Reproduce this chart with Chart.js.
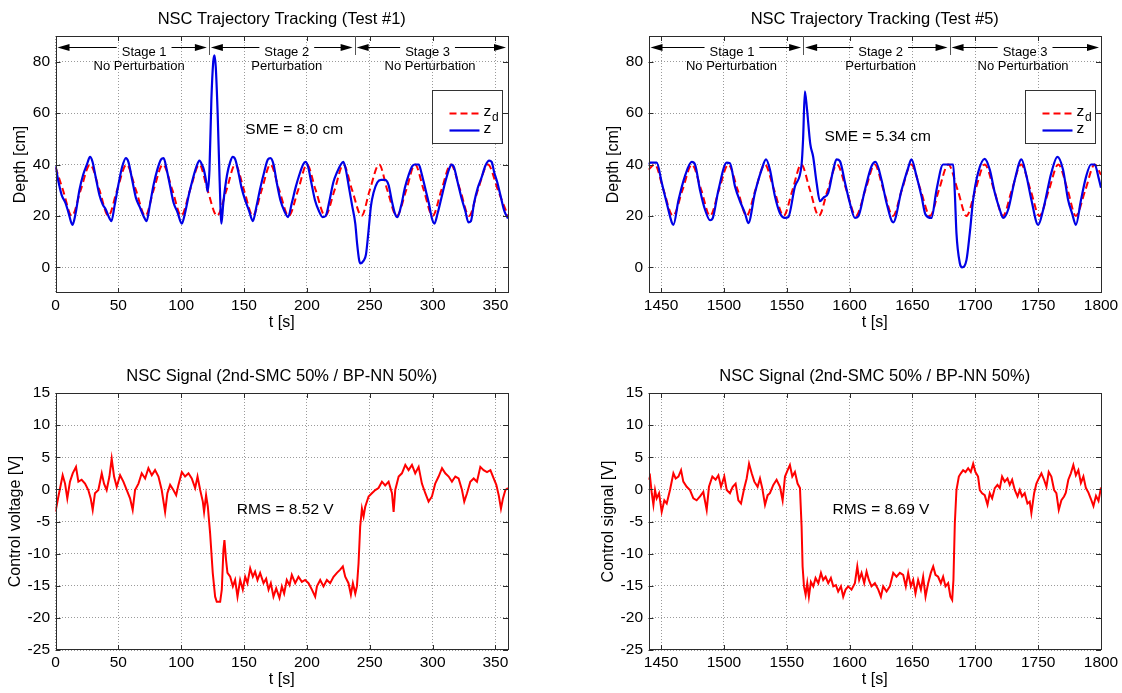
<!DOCTYPE html>
<html>
<head>
<meta charset="utf-8">
<script src="https://cdn.jsdelivr.net/npm/chart.js@4.4.1/dist/chart.umd.min.js"></script>
<style>
  html, body { margin: 0; padding: 0; background: #fff; overflow: hidden; }
  .panel { position: absolute; width: 529px; height: 336px; }
</style>
</head>
<body>
<div class="panel" style="left:0;top:0"><canvas id="depth1" width="529" height="336"></canvas></div>
<div class="panel" style="left:593px;top:0"><canvas id="depth5" width="529" height="336"></canvas></div>
<div class="panel" style="left:0;top:357px"><canvas id="ctrl1" width="529" height="336"></canvas></div>
<div class="panel" style="left:593px;top:357px"><canvas id="ctrl5" width="529" height="336"></canvas></div>
<script>
// ---- tick labels ----
const depthTicks = [0, 20, 40, 60, 80];
const ctrlTicks = [-25, -20, -15, -10, -5, 0, 5, 10, 15];
const test1TimeTicks = [0, 50, 100, 150, 200, 250, 300, 350];
const test5TimeTicks = [1450, 1500, 1550, 1600, 1650, 1700, 1750, 1800];

// ---- Test #1: desired depth z_d ----
const test1DesiredT = [0, 6, 13, 20, 27.5, 35, 42, 49, 56.5, 64, 71.5, 78, 85.5, 93, 100, 107, 114.5, 121, 128.5, 136,
  143, 150, 157, 164, 171, 178, 185.5, 193, 200, 207, 214.5, 222, 229, 236, 243.5, 250, 257.5, 264, 271.5, 279,
  286, 293, 300, 307, 314.5, 322, 329, 336, 344, 352, 360];
const test1DesiredZ = [39, 30, 20, 30, 40, 30, 20, 30, 40, 30, 20, 30, 40, 30, 20, 30, 40, 30, 20, 30,
  40, 30, 20, 30, 40, 30, 20, 30, 40, 30, 20, 30, 40, 30, 20, 30, 40, 30, 20, 30,
  40, 30, 20, 30, 40, 30, 20, 30, 40, 30, 20];

// ---- Test #1: measured depth z ----
const test1DepthT = [0, 2.5, 5, 8, 10.5, 13.5, 16, 19, 22, 25,
  27.5, 29.5, 32, 35, 37.5, 40, 43, 44.5, 47, 50,
  53, 56, 58, 61, 64, 67, 70, 72.5, 75, 78,
  81, 84, 86, 88.5, 91, 94, 97, 100.5, 103, 106,
  109, 112, 114.5, 116.5, 118, 120, 121, 122.5, 124, 125.5,
  126.5, 127.5, 129, 130.5, 132, 133.5, 136.5, 139, 141, 143,
  145.5, 148, 151, 154, 157, 160, 163, 166, 169, 171,
  173.5, 176, 179, 182, 185, 188, 191, 194, 197, 199,
  201, 203.5, 206.5, 209.5, 212.5, 215, 218, 221, 224, 227,
  229, 231, 233.5, 236, 238.5, 240, 241.5, 242.5, 245, 247,
  249, 251, 253, 256, 259, 262, 265, 267.5, 270, 272,
  275, 278, 281, 284, 286, 289, 291, 294, 297, 299.5,
  301.5, 304, 307, 310, 313, 315, 317, 320, 323, 326,
  328.5, 330.5, 333, 336, 339, 342, 345, 347, 349, 351.5,
  354, 357, 360];
const test1DepthZ = [39.5, 33, 28, 25, 21, 16.5, 21, 30, 36, 40,
  43, 41, 35, 28, 24.5, 22.5, 19, 18, 24, 32,
  39, 42.5, 41, 34, 27, 23.5, 20, 18, 24, 32,
  38, 42, 42.5, 38, 32, 25, 21.5, 17, 21, 28,
  34, 39, 41.5, 40, 38, 33, 29.5, 38, 65, 80,
  82.5, 78, 60, 35, 17, 25, 36, 41, 43, 42,
  37, 31, 26, 22, 18, 24, 31, 37, 42, 42.5,
  40, 33, 26, 22, 19.5, 25, 31, 36, 40, 41,
  39, 33, 26, 22, 19.5, 20, 26, 33, 37, 40,
  41, 38, 31, 24, 17, 9, 3, 1.5, 2.5, 5,
  14, 24, 29, 33, 34, 34, 32, 26, 21, 19.5,
  24, 31, 36, 39.5, 40, 40, 37, 31, 25, 19,
  17, 21, 27, 33, 38, 40, 39, 33, 27, 22,
  17.5, 18, 25, 31, 35, 39.5, 41.5, 41, 37, 33,
  28, 22, 19];

// ---- Test #5: desired depth z_d ----
const test5DesiredT = [1440, 1445, 1452, 1459.5, 1467, 1474.5, 1482, 1489, 1496, 1503.5,
  1511, 1518, 1525, 1532.5, 1540, 1547.5, 1554.5, 1561.5, 1568.5, 1575.5,
  1582.5, 1590, 1597.5, 1605, 1612.5, 1620, 1627, 1634.5, 1641.5, 1649,
  1656.5, 1664, 1671, 1678.5, 1686, 1693, 1700, 1707.5, 1715, 1722,
  1729, 1736.5, 1744, 1751, 1758.5, 1766, 1773.5, 1780, 1787.5, 1795, 1800];
const test5DesiredZ = [38, 40, 30, 20, 30, 40, 30, 20, 30, 40,
  30, 20, 30, 40, 30, 20, 30, 40, 30, 20,
  30, 40, 30, 20, 30, 40, 30, 20, 30, 40,
  30, 20, 30, 40, 30, 20, 30, 40, 30, 20,
  30, 40, 30, 20, 30, 40, 30, 20, 30, 40, 36];

// ---- Test #5: measured depth z ----
const test5DepthT = [1440, 1441.2, 1446.5, 1450.5, 1454.5, 1458.5, 1459.8, 1463.8, 1469, 1474.4,
  1477, 1481, 1485, 1489, 1491, 1495.6, 1502.2, 1504.8, 1508.8, 1512.8,
  1516.8, 1519.4, 1524.7, 1530, 1533.5, 1536.6, 1540.6, 1544.6, 1548.6, 1551.2,
  1556.5, 1561.8, 1563, 1564.4, 1566, 1568.7, 1571, 1573.7, 1576.4, 1579,
  1583, 1587, 1589.6, 1592.3, 1596.3, 1600.2, 1604.2, 1606.9, 1612.1, 1617.5,
  1620.6, 1625.4, 1629.4, 1634.7, 1641.3, 1646.6, 1649.2, 1653.2, 1657.2, 1660.4,
  1665.1, 1669.1, 1674.4, 1678.4, 1682.4, 1683.7, 1685, 1687.7, 1689.5, 1693,
  1695.6, 1698.3, 1702.2, 1707.5, 1711.5, 1715.5, 1719.5, 1722.1, 1726.1, 1731.4,
  1736.7, 1740.7, 1744.6, 1750, 1754, 1760.5, 1765.3, 1769.8, 1773.8, 1777,
  1780, 1784, 1788, 1792, 1795, 1798, 1800];
const test5DepthZ = [40, 40.7, 40.7, 33, 25, 17.5, 16.5, 26, 35.5, 41,
  40, 30, 22.4, 18.3, 19, 30, 40.7, 40.5, 31.5, 25.7,
  21, 17.2, 29, 38, 42, 38, 27.6, 21, 19.2, 19.5,
  31.5, 40, 50, 68.5, 62, 48, 43, 33, 25.7, 27,
  29, 38, 42, 41.3, 33, 25, 19.2, 19.8, 30, 39.4,
  41, 34, 25, 17.5, 30, 38.7, 42, 35.5, 27.6, 20.5,
  19.2, 30, 40, 40, 40, 29, 13.3, 1.6, 0, 2.9,
  13.3, 26.3, 36.8, 42.2, 38, 29, 22.4, 19.2, 22.4, 34,
  42, 35.5, 26.3, 16.5, 22.4, 36.8, 43, 38, 26.3, 21,
  16.5, 26, 35, 40, 40, 35, 31];

// ---- Test #1: control voltage ----
const test1CtrlT = [0, 2.3, 5.7, 7.6, 9.4, 11.5, 13.7, 16.3, 18.2, 20.8,
  23.5, 26.1, 28, 29.6, 31.4, 34.1, 36.8, 38.6, 40.7, 42.9,
  44.7, 46.6, 48.7, 51.4, 54, 56.7, 59.3, 61.4, 63.3, 66,
  68.6, 71.3, 73.9, 76.6, 79.2, 81.9, 84.5, 87.2, 89, 91.2,
  93.8, 96, 97.8, 100.5, 103.1, 105.8, 108.4, 111.1, 113, 115.1,
  117.2, 118.2, 119.8, 121.2, 123, 125.1, 127, 128.3, 131, 132.3,
  133.6, 134.4, 135.7, 136.8, 139, 141.1, 142.9, 144.8, 146.9, 149,
  150.9, 152.7, 154.9, 157, 158.8, 160.7, 162.8, 165.5, 167.6, 169.5,
  171.3, 173.4, 175.6, 178.2, 180.1, 181.9, 184, 186.2, 188, 190.7,
  193.3, 196, 198.6, 201.3, 204, 206.6, 208, 210.6, 213.2, 215.9,
  218.5, 221.2, 223.9, 226.5, 228.6, 230.5, 233.1, 235, 236.6, 238.5,
  239.8, 241.1, 242.4, 243.8, 245.1, 246.4, 249.1, 251.7, 254.4, 257,
  259.7, 262.3, 265, 267.7, 269, 270.3, 273, 275.6, 278.3, 280.9,
  283.6, 286.2, 288.9, 291.5, 294.2, 296.8, 299.5, 302.1, 304.8, 307.5,
  310.1, 312.8, 315.4, 318.1, 320.7, 323.4, 325.2, 327.4, 330, 332.7,
  335.3, 338, 340.6, 343.3, 346, 348.6, 350.7, 352.6, 354.4, 356,
  357.9, 360];
const test1CtrlU = [-3.5, -1.1, 2.2, 0.9, -1.4, 1.2, 2.5, 3.5, 1.2, 1.5,
  0.9, -0.1, -1.4, -3.2, -0.6, -0.1, 2.5, 0.9, -0.1, 2,
  4.8, 2, 0.4, 2.2, 1.2, -0.1, -1.4, -3.2, -0.1, 0.9,
  2.5, 1.7, 3.3, 2.2, 3, 2, -0.1, -3.5, -0.6, 0.7,
  -0.1, -0.9, 0.7, 2.7, 2, 2.5, 1.7, 0.2, 2, -0.1,
  -1.9, -3.5, -0.9, -2.7, -6.8, -13, -16.7, -17.5, -17.5, -15.6,
  -9.4, -7.9, -11, -13, -13.6, -15.1, -14.1, -16.7, -14.1, -15.6,
  -13.6, -14.6, -12.3, -13.6, -12.8, -14.1, -13, -14.6, -13.9, -15.6,
  -14.6, -16.7, -15.4, -16.9, -15.1, -16.2, -14.1, -14.9, -13.3, -14.6,
  -13.6, -14.4, -14.1, -14.6, -15.6, -16.7, -15.1, -14.1, -15.1, -14.1,
  -14.6, -13.6, -13, -12.5, -12, -13.6, -14.6, -16.4, -14.6, -16.2,
  -15.1, -11.5, -5.8, -3, -4.2, -2.7, -1.1, -0.6, -0.1, 0.2,
  1.2, 0.6, 1.2, -0.6, -3.5, -0.1, 2, 2.5, 3.8, 3,
  3.8, 2.5, 3.5, 0.9, -0.6, -1.9, -1.1, 0.9, 2, 3.3,
  2.5, 2, 1.2, 2, 1.7, -0.1, -1.9, -0.6, 1.2, 1.7,
  1.2, 3.5, 3, 2.7, 3, 1.7, 0.7, -0.9, -3, -1.4,
  -0.1, 0.2];

// ---- Test #5: control signal ----
const test5CtrlT = [1440, 1441.2, 1442.6, 1443.9, 1445.2, 1446.5, 1448.4, 1450.5, 1452.6, 1454.5,
  1457.1, 1459.8, 1461.6, 1463.8, 1465.9, 1467.7, 1470.4, 1473, 1475.7, 1478.3,
  1481, 1483.6, 1486.3, 1488.1, 1490.8, 1493.4, 1495.6, 1497.7, 1500.3, 1502.2,
  1504.8, 1507, 1509.3, 1511.5, 1513.6, 1516.2, 1518.1, 1520, 1522.1, 1524.2,
  1526.8, 1528.7, 1530.5, 1532.7, 1534.8, 1536.6, 1539.3, 1541.9, 1544.6, 1546.7,
  1548.6, 1550.7, 1552.5, 1554.4, 1556.5, 1558.6, 1560.5, 1561.8, 1562.6, 1563.7,
  1565, 1566.3, 1567.6, 1569.2, 1571.1, 1572.9, 1575.1, 1577.2, 1579, 1580.9,
  1583, 1585.1, 1587, 1589.1, 1590.9, 1593.1, 1594.9, 1596.8, 1598.9, 1601.5,
  1604.2, 1606.1, 1607.6, 1609.5, 1611.6, 1613.5, 1615.3, 1617.4, 1620.1, 1622.8,
  1624.9, 1626.7, 1629.4, 1632, 1634.7, 1637.3, 1640, 1642.6, 1644.7, 1646.6,
  1648.7, 1650.6, 1652.4, 1654.5, 1656.7, 1658.5, 1660.4, 1662.5, 1664.6, 1666.5,
  1668.3, 1670.4, 1672.6, 1674.4, 1676.3, 1678.4, 1680.2, 1681.6, 1682.6, 1683.7,
  1685, 1686.9, 1688.5, 1690.3, 1692.2, 1694.3, 1696.4, 1698.3, 1700.1, 1702.2,
  1703.6, 1705.4, 1707.5, 1709.7, 1711.5, 1713.4, 1715.5, 1717.6, 1719.5, 1721.3,
  1723.4, 1725.6, 1727.4, 1729.3, 1731.4, 1733.6, 1735.4, 1737.2, 1739.3, 1741.5,
  1743.3, 1744.6, 1746.8, 1748.6, 1750.5, 1752.6, 1754.7, 1756.6, 1758.4, 1760.5,
  1762.7, 1764.5, 1766.4, 1768.5, 1770.6, 1772, 1774, 1776, 1778, 1780,
  1782, 1784, 1786, 1788, 1790, 1792, 1794, 1796, 1798, 1800];
const test5CtrlU = [1.5, 2, -0.6, -2.4, -0.1, -1.4, -0.6, -3.5, -1.7, -2.2,
  -0.1, 2.5, 1.7, 2, 3, 1.2, 0.4, -0.1, -1.4, -1.7,
  -1.1, -0.4, -3.2, 0.4, 2, 1.5, 2.2, 0.4, 2, -0.1,
  -0.6, 0.4, 0.9, -1.7, -2.2, 0.2, 1.7, 4, 2.5, 1.2,
  0.4, 1.7, 0.2, -2.4, -0.9, -0.6, 0.7, 1.5, 0.4, -1.7,
  2, 3, 3.8, 2, 2.7, 0.9, 0.2, -5.8, -12, -15.1,
  -16.4, -14.6, -16.7, -14.4, -15.1, -13.8, -14.6, -13, -14.1, -13.6,
  -14.6, -13.8, -15.1, -14.9, -15.9, -15.1, -16.7, -15.6, -15.1, -15.6,
  -14.6, -12, -14.1, -13, -14.6, -12.8, -14.1, -15.1, -14.6, -15.6,
  -16.7, -15.1, -15.9, -15.1, -13, -13.6, -13, -13.3, -15.1, -13,
  -15.1, -14.1, -16.2, -14.1, -15.6, -13.6, -16.7, -14.6, -13, -12,
  -13.3, -13.6, -14.6, -13.6, -15.1, -14.6, -16.7, -17.2, -14.1, -5.3,
  -0.1, 2, 2.5, 3, 2.7, 3.3, 2.7, 4, 2.7, 2,
  -0.1, -0.6, -0.9, -2.4, -0.6, -1.4, 0.2, 0.7, 0.2, 2,
  1.2, 1.7, 0.7, 1.5, -0.1, -1.1, -0.1, -1.1, -0.6, -2.2,
  -1.9, -3.7, -0.6, 0.9, 1.7, 2.5, 1.5, 0.4, 2.7, 2,
  -0.1, -0.6, -3.2, -1.7, -1.1, -0.5, 1.5, 2.5, 3.8, 2.2,
  3, 1, 2, 0.2, -0.5, -1.5, -2.6, -1, -1.8, 0.3];

const FONT = "'Liberation Sans', Arial, sans-serif";
const RED = '#ff0000';
const BLUE = '#0000e6';

function pairs(ts, vs) {
  return ts.map((t, i) => ({ x: t, y: vs[i] }));
}

// title, box, inward ticks, stage arrows, text notes and the legend
const overlay = {
  id: 'overlay',
  afterDatasetsDraw(chart, args, o) {
    const { ctx, chartArea: a } = chart;
    const xs = chart.scales.x, ys = chart.scales.y;
    ctx.save();

    // title centred over the plot box
    ctx.fillStyle = '#000';
    ctx.font = '16.5px ' + FONT;
    ctx.textAlign = 'center';
    ctx.textBaseline = 'middle';
    ctx.fillText(o.title, (a.left + a.right) / 2, 19);

    ctx.strokeStyle = '#2b2b2b';
    ctx.lineWidth = 1;
    ctx.strokeRect(Math.round(a.left) + 0.5, Math.round(a.top) + 0.5,
      Math.round(a.right - a.left) - 1, Math.round(a.bottom - a.top) - 1);
    ctx.beginPath();
    xs.ticks.forEach(t => {
      const px = Math.round(xs.getPixelForValue(t.value)) + 0.5;
      ctx.moveTo(px, a.bottom); ctx.lineTo(px, a.bottom - 5);
      ctx.moveTo(px, a.top); ctx.lineTo(px, a.top + 5);
    });
    ys.ticks.forEach(t => {
      const py = Math.round(ys.getPixelForValue(t.value)) + 0.5;
      ctx.moveTo(a.left, py); ctx.lineTo(a.left + 5, py);
      ctx.moveTo(a.right, py); ctx.lineTo(a.right - 5, py);
    });
    ctx.stroke();

    ctx.strokeStyle = '#000';
    (o.stages || []).forEach((s, i) => {
      const ay = a.top + 11.5;
      const x0 = xs.getPixelForValue(s.from) + 2;
      const x1 = xs.getPixelForValue(s.to) - 2;
      const lx = xs.getPixelForValue(s.lx);
      ctx.font = '13px ' + FONT;
      const w = ctx.measureText(s.label).width;
      ctx.lineWidth = 1;
      ctx.beginPath();
      ctx.moveTo(x0 + 8, ay); ctx.lineTo(lx - w / 2 - 5, ay);
      ctx.moveTo(lx + w / 2 + 5, ay); ctx.lineTo(x1 - 8, ay);
      ctx.stroke();
      [[x0, -1], [x1, 1]].forEach(([tx, d]) => {
        ctx.beginPath();
        ctx.moveTo(tx, ay);
        ctx.lineTo(tx - d * 12, ay - 3.5);
        ctx.lineTo(tx - d * 12, ay + 3.5);
        ctx.closePath();
        ctx.fill();
      });
      if (i > 0) {
        ctx.strokeStyle = '#555';
        ctx.beginPath();
        const bx = Math.round(xs.getPixelForValue(s.from)) + 0.5;
        ctx.moveTo(bx, a.top); ctx.lineTo(bx, a.top + 19);
        ctx.stroke();
        ctx.strokeStyle = '#000';
      }
      ctx.fillText(s.label, lx, a.top + 16);
      ctx.fillText(s.sub, xs.getPixelForValue(s.sx), a.top + 30.5);
    });

    if (o.note) {
      ctx.font = '15.5px ' + FONT;
      ctx.textAlign = 'left';
      ctx.fillText(o.note.text, xs.getPixelForValue(o.note.x), ys.getPixelForValue(o.note.y));
    }

    if (o.legend) {
      const bw = 70, bh = 53;
      const bx = Math.round(a.right - 6 - bw) + 0.5, by = Math.round(a.top + 54) + 0.5;
      ctx.fillStyle = '#fff';
      ctx.fillRect(bx, by, bw, bh);
      ctx.strokeStyle = '#333';
      ctx.lineWidth = 1;
      ctx.strokeRect(bx, by, bw, bh);
      chart.data.datasets.forEach((ds, i) => {
        const ly = by + (i === 0 ? 23 : 40);
        ctx.strokeStyle = ds.borderColor;
        ctx.lineWidth = ds.borderWidth;
        ctx.setLineDash(ds.borderDash || []);
        ctx.beginPath();
        ctx.moveTo(bx + 17, ly); ctx.lineTo(bx + 47, ly);
        ctx.stroke();
        ctx.setLineDash([]);
        const [base, sub] = ds.label.split('_');
        ctx.fillStyle = '#000';
        ctx.textAlign = 'left';
        ctx.font = '15.5px ' + FONT;
        ctx.fillText(base, bx + 51, ly - 2);
        if (sub) {
          ctx.font = '12px ' + FONT;
          ctx.fillText(sub, bx + 59.5, ly + 4);
        }
      });
    }
    ctx.restore();
  }
};

function axisFont(size) {
  return { family: FONT, size: size };
}

function plain(v) {
  return String(v);
}

function makeChart(id, cfg) {
  cfg.overlay.title = cfg.title;
  return new Chart(document.getElementById(id), {
    type: 'line',
    data: { datasets: cfg.datasets },
    options: {
      responsive: false,
      animation: false,
      events: [],
      layout: { padding: { left: 0, right: 21, top: 36, bottom: 0 } },
      plugins: {
        legend: { display: false },
        tooltip: { enabled: false },
        title: { display: false },
        overlay: cfg.overlay
      },
      scales: {
        x: {
          type: 'linear',
          min: cfg.xMin,
          max: cfg.xMax,
          afterBuildTicks: s => { s.ticks = cfg.xTicks.map(v => ({ value: v })); },
          afterFit: s => { s.height = 43; },
          ticks: { color: '#000', font: axisFont(15.5), padding: 3, autoSkip: false, maxRotation: 0, callback: plain },
          grid: { color: '#9a9a9a', lineWidth: 1, drawTicks: false },
          border: { display: false, dash: [1, 2] },
          title: { display: true, text: 't [s]', color: '#000', font: axisFont(16), padding: { top: 0, bottom: 3.4 } }
        },
        y: {
          min: cfg.yMin,
          max: cfg.yMax,
          afterBuildTicks: s => { s.ticks = cfg.yTicks.map(v => ({ value: v })); },
          afterFit: s => { s.width = 55.5; },
          ticks: { color: '#000', font: axisFont(15.5), padding: 5.5, autoSkip: false, callback: plain },
          grid: { color: '#9a9a9a', lineWidth: 1, drawTicks: false },
          border: { display: false, dash: [1, 2] },
          title: { display: true, text: cfg.yTitle, color: '#000', font: axisFont(16), padding: { top: cfg.yTitlePad, bottom: 0 } }
        }
      }
    },
    plugins: [overlay]
  });
}

function depthSets(desT, desZ, meaT, meaZ) {
  return [
    { label: 'z_d', data: pairs(desT, desZ), borderColor: RED, borderWidth: 2, borderDash: [7, 4],
      pointRadius: 0, cubicInterpolationMode: 'monotone', fill: false, order: 1 },
    { label: 'z', data: pairs(meaT, meaZ), borderColor: BLUE, borderWidth: 2.2,
      pointRadius: 0, cubicInterpolationMode: 'monotone', fill: false, order: 0 }
  ];
}

function ctrlSets(t, u) {
  return [{ label: 'u', data: pairs(t, u), borderColor: RED, borderWidth: 2, pointRadius: 0, tension: 0, fill: false }];
}

makeChart('depth1', {
  title: 'NSC Trajectory Tracking (Test #1)',
  datasets: depthSets(test1DesiredT, test1DesiredZ, test1DepthT, test1DepthZ),
  xMin: 0, xMax: 360, xTicks: test1TimeTicks,
  yMin: -10, yMax: 90, yTicks: depthTicks,
  yTitle: 'Depth [cm]', yTitlePad: 11.4,
  overlay: {
    stages: [
      { from: 0, to: 122, label: 'Stage 1', sub: 'No Perturbation', lx: 70.5, sx: 66.5 },
      { from: 122, to: 238, label: 'Stage 2', sub: 'Perturbation', lx: 184, sx: 184 },
      { from: 238, to: 360, label: 'Stage 3', sub: 'No Perturbation', lx: 296, sx: 298 }
    ],
    note: { text: 'SME = 8.0 cm', x: 151, y: 53.5 },
    legend: true
  }
});

makeChart('depth5', {
  title: 'NSC Trajectory Tracking (Test #5)',
  datasets: depthSets(test5DesiredT, test5DesiredZ, test5DepthT, test5DepthZ),
  xMin: 1440, xMax: 1800, xTicks: test5TimeTicks,
  yMin: -10, yMax: 90, yTicks: depthTicks,
  yTitle: 'Depth [cm]', yTitlePad: 11.4,
  overlay: {
    stages: [
      { from: 1440, to: 1563, label: 'Stage 1', sub: 'No Perturbation', lx: 1506.4, sx: 1506 },
      { from: 1563, to: 1679.5, label: 'Stage 2', sub: 'Perturbation', lx: 1624.7, sx: 1624.7 },
      { from: 1679.5, to: 1800, label: 'Stage 3', sub: 'No Perturbation', lx: 1739.6, sx: 1738 }
    ],
    note: { text: 'SME = 5.34 cm', x: 1580, y: 51 },
    legend: true
  }
});

makeChart('ctrl1', {
  title: 'NSC Signal (2nd-SMC 50% / BP-NN 50%)',
  datasets: ctrlSets(test1CtrlT, test1CtrlU),
  xMin: 0, xMax: 360, xTicks: test1TimeTicks,
  yMin: -25, yMax: 15, yTicks: ctrlTicks,
  yTitle: 'Control voltage [V]', yTitlePad: 5.9,
  overlay: { note: { text: 'RMS = 8.52 V', x: 144.2, y: -3.2 } }
});

makeChart('ctrl5', {
  title: 'NSC Signal (2nd-SMC 50% / BP-NN 50%)',
  datasets: ctrlSets(test5CtrlT, test5CtrlU),
  xMin: 1440, xMax: 1800, xTicks: test5TimeTicks,
  yMin: -25, yMax: 15, yTicks: ctrlTicks,
  yTitle: 'Control signal [V]', yTitlePad: 5.9,
  overlay: { note: { text: 'RMS = 8.69 V', x: 1586.4, y: -3.2 } }
});
</script>
</body>
</html>
